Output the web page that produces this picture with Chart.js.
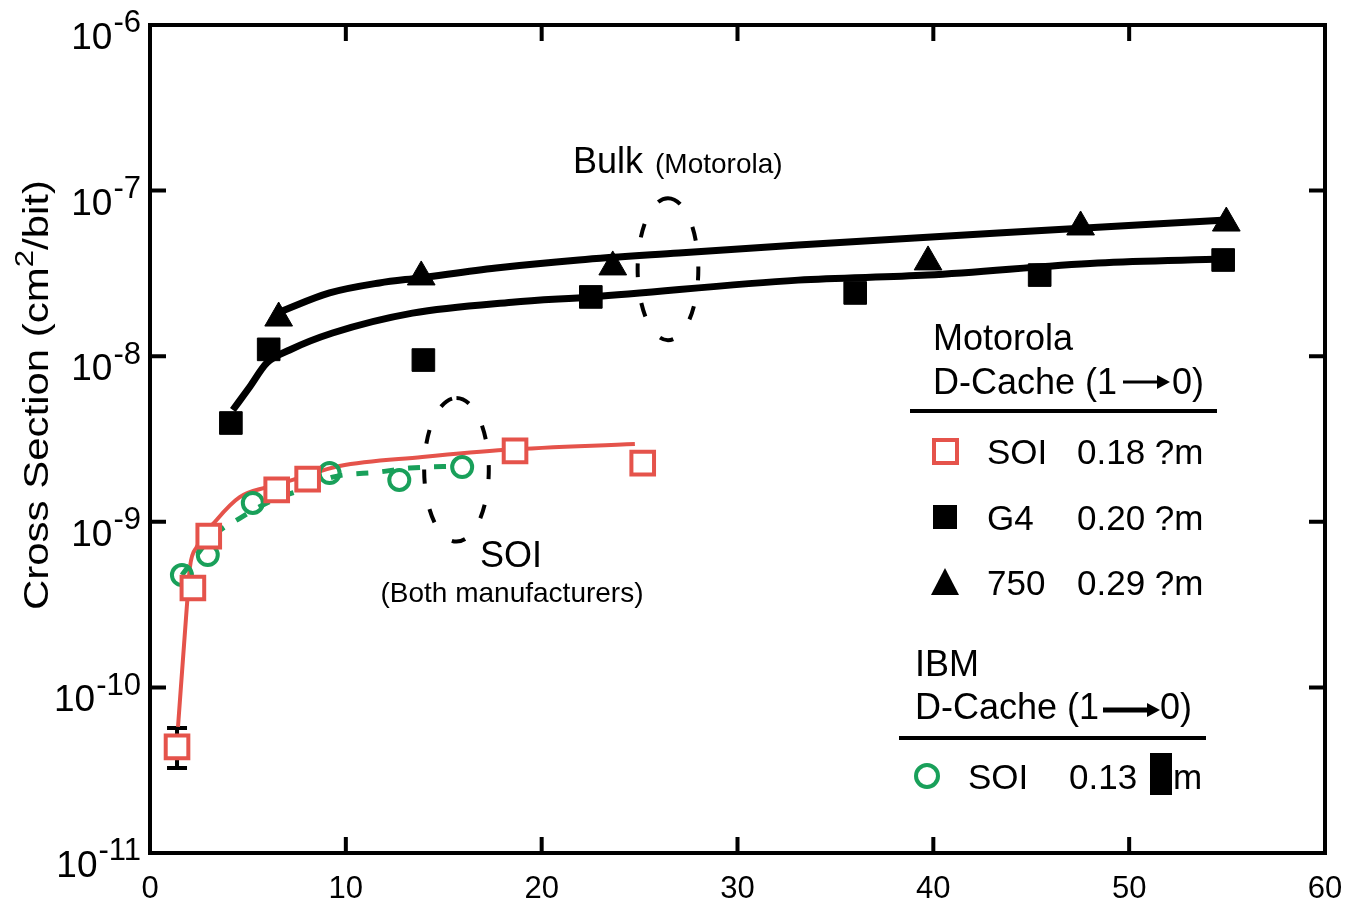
<!DOCTYPE html>
<html>
<head>
<meta charset="utf-8">
<script src="https://cdn.jsdelivr.net/npm/chart.js@4.4.0/dist/chart.umd.min.js"></script>
<style>
  body { margin: 0; background: #fff; }
  #wrap { width: 1345px; height: 903px; }
</style>
</head>
<body>
<div id="wrap"><canvas id="crossChart" width="1345" height="903"></canvas></div>
<script>
// Motorola SOI 0.18 (red open squares)
const soiX = [1.38, 2.19, 3.0, 6.47, 8.05, 18.64, 25.16];
const soiY = [4.37e-11, 3.98e-10, 8.2e-10, 1.56e-9, 1.81e-9, 2.68e-9, 2.26e-9];
const soiErrLo = [3.26e-11];
const soiErrHi = [5.69e-11];
const soiFitX = [1.43, 1.88, 2.04, 2.39, 3.41, 4.58, 5.96, 7.28, 9.68, 13.9, 18.19, 24.76];
const soiFitY = [5.77e-11, 3.06e-10, 5.33e-10, 7.05e-10, 1.03e-9, 1.41e-9, 1.62e-9, 1.79e-9, 2.17e-9, 2.46e-9, 2.72e-9, 2.95e-9];

// IBM SOI 0.13 (green open circles)
const ibmX = [1.63, 2.95, 5.25, 9.17, 12.73, 15.94];
const ibmY = [4.77e-10, 6.3e-10, 1.3e-9, 1.97e-9, 1.79e-9, 2.14e-9];
const ibmFitX = [1.63, 3.16, 4.58, 6.27, 8.0, 9.32, 11.72, 13.25, 15.8];
const ibmFitY = [4.77e-10, 8.1e-10, 1.05e-9, 1.35e-9, 1.6e-9, 1.86e-9, 2.0e-9, 2.11e-9, 2.17e-9];

// Motorola G4 0.20 (black squares)
const g4X = [4.13, 6.06, 13.96, 22.51, 36.01, 45.43, 54.8];
const g4Y = [3.95e-9, 1.1e-8, 9.48e-9, 2.28e-8, 2.41e-8, 3.09e-8, 3.81e-8];
const g4FitX = [4.23, 5.09, 5.96, 7.13, 9.32, 13.4, 18.49, 22.56, 33.1, 39.7, 48.4, 54.8];
const g4FitY = [4.73e-9, 6.52e-9, 9.1e-9, 1.09e-8, 1.38e-8, 1.82e-8, 2.12e-8, 2.28e-8, 2.88e-8, 3.09e-8, 3.66e-8, 3.86e-8];

// Motorola 750 0.29 (black triangles)
const m750X = [6.57, 13.85, 23.63, 39.73, 47.52, 54.96];
const m750Y = [1.70e-8, 3.01e-8, 3.46e-8, 3.71e-8, 6.03e-8, 6.37e-8];
const m750FitX = [6.62, 9.17, 11.71, 13.75, 17.67, 21.9, 27.0, 33.1, 43.3, 54.96];
const m750FitY = [1.85e-8, 2.41e-8, 2.77e-8, 2.97e-8, 3.41e-8, 3.81e-8, 4.2e-8, 4.69e-8, 5.55e-8, 6.64e-8];

// axis ticks
const xTicks = [0, 10, 20, 30, 40, 50, 60];
const yTickExp = [-6, -7, -8, -9, -10, -11];

const RED = '#e5534b';
const GREEN = '#19a05a';
const FONT = '"Liberation Sans", Arial, sans-serif';

function pts(xs, ys) {
    return xs.map((x, i) => ({ x: x, y: ys[i] }));
}

function drawPow(c, exp, rightX, y, size, supSize) {
    c.font = supSize + 'px ' + FONT;
    const supW = c.measureText(String(exp)).width;
    c.textAlign = 'left';
    c.textBaseline = 'alphabetic';
    c.fillText(String(exp), rightX - supW, y - size * 0.45);
    c.font = size + 'px ' + FONT;
    const baseW = c.measureText('10').width;
    c.fillText('10', rightX - supW - baseW - 1, y);
}

function dashedEllipse(c, chart, x0, x1, y0, y1) {
    const xs = chart.scales.x, ys = chart.scales.y;
    const l = xs.getPixelForValue(x0), r = xs.getPixelForValue(x1);
    const t = ys.getPixelForValue(y1), b = ys.getPixelForValue(y0);
    c.save();
    c.strokeStyle = '#000';
    c.lineWidth = 4;
    c.setLineDash([14, 26]);
    c.beginPath();
    c.ellipse((l + r) / 2, (t + b) / 2, (r - l) / 2, (b - t) / 2, 0, -Math.PI / 2, Math.PI * 1.5);
    c.stroke();
    c.restore();
}

function arrow(c, x0, x1, y, w) {
    c.save();
    c.strokeStyle = '#000';
    c.fillStyle = '#000';
    c.lineWidth = w;
    c.beginPath();
    c.moveTo(x0, y);
    c.lineTo(x1 - 10, y);
    c.stroke();
    c.beginPath();
    c.moveTo(x1, y);
    c.lineTo(x1 - 13, y - 7);
    c.lineTo(x1 - 13, y + 7);
    c.closePath();
    c.fill();
    c.restore();
}

const framePlugin = {
    id: 'frame',
    beforeDatasetsDraw(chart) {
        const c = chart.ctx;
        const xs = chart.scales.x, ys = chart.scales.y;
        c.save();
        c.strokeStyle = '#000';
        c.lineWidth = 4;
        soiErrLo.forEach((lo, i) => {
            const px = xs.getPixelForValue(soiX[i]);
            const top = ys.getPixelForValue(soiErrHi[i]);
            const bot = ys.getPixelForValue(lo);
            c.beginPath();
            c.moveTo(px, top); c.lineTo(px, bot);
            c.moveTo(px - 10, top); c.lineTo(px + 10, top);
            c.moveTo(px - 10, bot); c.lineTo(px + 10, bot);
            c.stroke();
        });
        c.restore();
    },
    afterDraw(chart) {
        const c = chart.ctx;
        const a = chart.chartArea;
        const xs = chart.scales.x, ys = chart.scales.y;
        c.save();
        c.fillStyle = '#000';
        c.strokeStyle = '#000';

        // frame
        c.lineWidth = 4;
        c.strokeRect(a.left, a.top, a.right - a.left, a.bottom - a.top);

        // tick marks (inward)
        c.lineWidth = 4;
        c.beginPath();
        xTicks.forEach(v => {
            const px = xs.getPixelForValue(v);
            c.moveTo(px, a.bottom); c.lineTo(px, a.bottom - 16);
            c.moveTo(px, a.top); c.lineTo(px, a.top + 16);
        });
        yTickExp.forEach(e => {
            const py = ys.getPixelForValue(Math.pow(10, e));
            c.moveTo(a.left, py); c.lineTo(a.left + 16, py);
            c.moveTo(a.right, py); c.lineTo(a.right - 16, py);
        });
        c.stroke();

        // tick labels
        c.font = '31px ' + FONT;
        c.textAlign = 'center';
        c.textBaseline = 'alphabetic';
        xTicks.forEach(v => {
            c.fillText(String(v), xs.getPixelForValue(v), a.bottom + 45);
        });
        yTickExp.forEach(e => {
            const py = ys.getPixelForValue(Math.pow(10, e));
            drawPow(c, e, a.left - 9, py + 24, 37, 31);
        });

        // y axis title, stretched along its length like the original
        c.save();
        c.translate(38, 395);
        c.rotate(-Math.PI / 2);
        const big = '35px ' + FONT, small = '26px ' + FONT;
        c.font = big;
        const w1 = c.measureText('Cross Section (cm').width;
        const w3 = c.measureText('/bit)').width;
        c.font = small;
        const w2 = c.measureText('2').width;
        const total = w1 + w2 + w3;
        c.scale(430 / total, 1);
        let sx = -total / 2;
        c.textAlign = 'left';
        c.textBaseline = 'middle';
        c.font = big;
        c.fillText('Cross Section (cm', sx, 0);
        c.font = small;
        c.fillText('2', sx + w1, -12);
        c.font = big;
        c.fillText('/bit)', sx + w1 + w2, 0);
        c.restore();

        // annotation ellipses
        dashedEllipse(c, chart, 24.9, 28.0, 1.25e-8, 9.0e-8);
        dashedEllipse(c, chart, 14.0, 17.3, 7.6e-10, 5.6e-9);

        // annotation text
        c.textAlign = 'left';
        c.textBaseline = 'alphabetic';
        c.font = '36px ' + FONT;
        c.fillText('Bulk', 573, 173);
        c.font = '28px ' + FONT;
        c.fillText('(Motorola)', 655, 173);
        c.font = '36px ' + FONT;
        c.fillText('SOI', 480, 567);
        c.font = '28px ' + FONT;
        c.textAlign = 'center';
        c.fillText('(Both manufacturers)', 512, 602);

        // Motorola legend block
        c.textAlign = 'left';
        c.font = '36px ' + FONT;
        c.fillText('Motorola', 933, 350);
        c.fillText('D-Cache (1', 933, 394);
        arrow(c, 1123, 1170, 382, 3);
        c.fillText('0)', 1172, 394);
        c.fillRect(910, 409, 307, 4);

        c.font = '35px ' + FONT;
        const rows = [
            { y: 451, name: 'SOI', size: '0.18 ?m' },
            { y: 517, name: 'G4', size: '0.20 ?m' },
            { y: 582, name: '750', size: '0.29 ?m' }
        ];
        rows.forEach(r => {
            c.fillText(r.name, 987, r.y + 13);
            c.fillText(r.size, 1077, r.y + 13);
        });
        // legend markers
        c.lineWidth = 4;
        c.strokeStyle = RED;
        c.fillStyle = '#fff';
        c.fillRect(934, 440, 23, 23);
        c.strokeRect(934, 440, 23, 23);
        c.fillStyle = '#000';
        c.fillRect(933, 505, 24, 24);
        c.beginPath();
        c.moveTo(945, 568); c.lineTo(959, 595); c.lineTo(931, 595);
        c.closePath();
        c.fill();

        // IBM legend block
        c.font = '36px ' + FONT;
        c.fillText('IBM', 915, 676);
        c.fillText('D-Cache (1', 915, 719);
        arrow(c, 1103, 1160, 710, 5);
        c.fillText('0)', 1160, 719);
        c.fillRect(899, 736, 307, 4);
        c.font = '35px ' + FONT;
        c.fillText('SOI', 968, 789);
        c.fillText('0.13', 1069, 789);
        c.fillRect(1150, 753, 22, 42);
        c.fillText('m', 1173, 789);
        c.strokeStyle = GREEN;
        c.lineWidth = 4;
        c.beginPath();
        c.arc(927, 776, 11, 0, Math.PI * 2);
        c.stroke();

        c.restore();
    }
};

const ctx = document.getElementById('crossChart').getContext('2d');
new Chart(ctx, {
    type: 'line',
    data: {
        datasets: [
            {
                data: pts(soiX, soiY), showLine: false, order: 0,
                pointStyle: 'rect', pointRadius: 16, borderColor: RED, backgroundColor: '#fff', pointBorderWidth: 4
            },
            {
                data: pts(ibmX, ibmY), showLine: false, order: 0,
                pointStyle: 'circle', pointRadius: 10, borderColor: GREEN, backgroundColor: 'rgba(255,255,255,0)', pointBorderWidth: 4
            },
            {
                data: pts(g4X, g4Y), showLine: false, order: 0,
                pointStyle: 'rect', pointRadius: 16, borderColor: '#000', backgroundColor: '#000', pointBorderWidth: 1
            },
            {
                data: pts(m750X, m750Y), showLine: false, order: 0,
                pointStyle: 'triangle', pointRadius: 16, borderColor: '#000', backgroundColor: '#000', pointBorderWidth: 1
            },
            {
                data: pts(ibmFitX, ibmFitY), order: 1, borderColor: GREEN, borderWidth: 5, borderDash: [12, 14],
                pointRadius: 0, cubicInterpolationMode: 'monotone', fill: false
            },
            {
                data: pts(soiFitX, soiFitY), order: 2, borderColor: RED, borderWidth: 4,
                pointRadius: 0, cubicInterpolationMode: 'monotone', fill: false
            },
            {
                data: pts(g4FitX, g4FitY), order: 2, borderColor: '#000', borderWidth: 7,
                pointRadius: 0, cubicInterpolationMode: 'monotone', fill: false
            },
            {
                data: pts(m750FitX, m750FitY), order: 2, borderColor: '#000', borderWidth: 7,
                pointRadius: 0, cubicInterpolationMode: 'monotone', fill: false
            }
        ]
    },
    options: {
        responsive: false,
        animation: false,
        layout: { padding: { left: 150, top: 25, right: 17, bottom: 50 } },
        plugins: {
            legend: { display: false },
            tooltip: { enabled: false }
        },
        scales: {
            x: { type: 'linear', min: 0, max: 60, display: false },
            y: { type: 'logarithmic', min: 1e-11, max: 1e-6, display: false }
        }
    },
    plugins: [framePlugin]
});
</script>
</body>
</html>
